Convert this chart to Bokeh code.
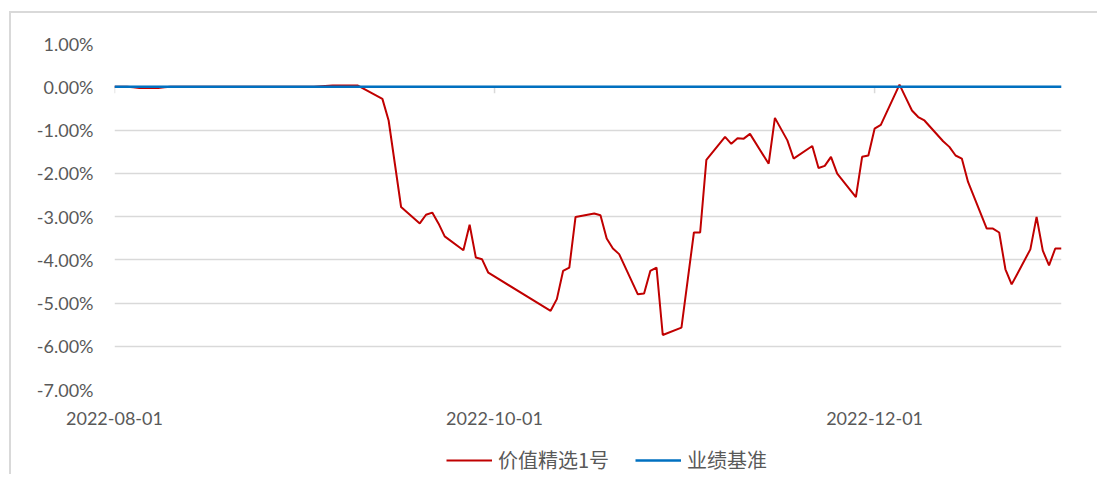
import pandas as pd
from bokeh.plotting import figure
from bokeh.layouts import column
from bokeh.models import (Legend, LegendItem, FixedTicker, DatetimeTickFormatter,
                          PrintfTickFormatter, Range1d, ColumnDataSource)
from bokeh.embed import file_html
from bokeh.resources import INLINE

# ---- data ----
fund_name = "价值精选1号"
bench_name = "业绩基准"

fund_dates = [
    "2022-08-01", "2022-08-03", "2022-08-04", "2022-08-05", "2022-08-08", "2022-08-09",
    "2022-08-10", "2022-09-02", "2022-09-05", "2022-09-08", "2022-09-09",
    "2022-09-13", "2022-09-14", "2022-09-15", "2022-09-16",
    "2022-09-19", "2022-09-20", "2022-09-21", "2022-09-22", "2022-09-23",
    "2022-09-26", "2022-09-27", "2022-09-28", "2022-09-29", "2022-09-30",
    "2022-10-10", "2022-10-11", "2022-10-12", "2022-10-13", "2022-10-14",
    "2022-10-17", "2022-10-18", "2022-10-19", "2022-10-20", "2022-10-21",
    "2022-10-24", "2022-10-25", "2022-10-26", "2022-10-27", "2022-10-28",
    "2022-10-31", "2022-11-01", "2022-11-02", "2022-11-03", "2022-11-04",
    "2022-11-07", "2022-11-08", "2022-11-09", "2022-11-10", "2022-11-11",
    "2022-11-14", "2022-11-15", "2022-11-16", "2022-11-17", "2022-11-18",
    "2022-11-21", "2022-11-22", "2022-11-23", "2022-11-24", "2022-11-25",
    "2022-11-28", "2022-11-29", "2022-11-30", "2022-12-01", "2022-12-02",
    "2022-12-05", "2022-12-06", "2022-12-07", "2022-12-08", "2022-12-09",
    "2022-12-12", "2022-12-13", "2022-12-14", "2022-12-15", "2022-12-16",
    "2022-12-19", "2022-12-20", "2022-12-21", "2022-12-22", "2022-12-23",
    "2022-12-26", "2022-12-27", "2022-12-28", "2022-12-29", "2022-12-30",
    "2022-12-31",
]
fund_values = [
    0.00, 0.00, -0.01, -0.03, -0.03, -0.01,
    0.00, 0.00, 0.03, 0.03, 0.03,
    -0.28, -0.78, -1.78, -2.78,
    -3.16, -2.96, -2.91, -3.16, -3.46,
    -3.78, -3.19, -3.95, -3.99, -4.30,
    -5.18, -4.91, -4.26, -4.18, -3.01,
    -2.93, -2.97, -3.51, -3.74, -3.87,
    -4.80, -4.78, -4.26, -4.18, -5.74,
    -5.57, -4.47, -3.37, -3.37, -1.69,
    -1.16, -1.32, -1.19, -1.20, -1.09,
    -1.78, -0.72, -0.98, -1.24, -1.66,
    -1.37, -1.88, -1.83, -1.62, -2.01,
    -2.55, -1.62, -1.59, -0.97, -0.88,
    0.05, -0.25, -0.55, -0.70, -0.78,
    -1.26, -1.39, -1.59, -1.66, -2.20,
    -3.28, -3.28, -3.37, -4.22, -4.57,
    -3.76, -3.01, -3.79, -4.13, -3.74,
    -3.74,
]

bench_dates = ["2022-08-01", "2022-12-31"]
bench_values = [0.00, 0.00]

x_tick_labels = ["2022-08-01", "2022-10-01", "2022-12-01"]
y_ticks = [-7, -6, -5, -4, -3, -2, -1, 0, 1]

# ---- styles ----
TEXT = "#595959"
GRID = "#d9d9d9"
RED = "#c00000"
BLUE = "#0070c0"

x_range = Range1d(start=pd.Timestamp(bench_dates[0]), end=pd.Timestamp(bench_dates[-1]))

# ---- main figure ----
p = figure(width=1086, height=417, output_backend="svg", toolbar_location=None,
           x_axis_type="datetime", x_range=x_range,
           y_range=Range1d(y_ticks[0], y_ticks[-1]),
           min_border_left=103, min_border_right=36, min_border_top=30, min_border_bottom=41)
p.outline_line_color = None
p.background_fill_color = "white"
p.border_fill_color = "white"

p.yaxis.ticker = FixedTicker(ticks=y_ticks)
p.yaxis.formatter = PrintfTickFormatter(format="%.2f%%")
p.yaxis.axis_line_color = None
p.yaxis.major_tick_line_color = None
p.yaxis.minor_tick_line_color = None
p.yaxis.major_label_standoff = 15
p.yaxis.major_label_text_font = "Lato"
p.yaxis.major_label_text_font_size = "18px"
p.yaxis.major_label_text_color = TEXT

tick_ms = [pd.Timestamp(d).value / 1e6 for d in x_tick_labels]
p.xaxis.ticker = FixedTicker(ticks=tick_ms)
fmt = "%Y-%m-%d"
p.xaxis.formatter = DatetimeTickFormatter(days=fmt, months=fmt, years=fmt, hours=fmt,
                                          minutes=fmt, seconds=fmt, milliseconds=fmt,
                                          microseconds=fmt, hourmin=fmt, minsec=fmt)
p.xaxis.axis_line_color = None
p.xaxis.major_tick_line_color = None
p.xaxis.minor_tick_line_color = None
p.xaxis.major_label_standoff = 16
p.xaxis.major_label_text_font = "Lato"
p.xaxis.major_label_text_font_size = "18px"
p.xaxis.major_label_text_color = TEXT

p.xgrid.grid_line_color = None
p.ygrid.grid_line_color = GRID
p.ygrid.grid_line_width = 1.5

# small tick marks of the horizontal axis at y = 0
tick_dates = pd.to_datetime(x_tick_labels)
p.segment(x0=tick_dates, y0=[0] * len(tick_dates), x1=tick_dates, y1=[-0.15] * len(tick_dates),
          line_color=GRID, line_width=1.5)

fund_src = ColumnDataSource(dict(x=pd.to_datetime(fund_dates), y=fund_values))
bench_src = ColumnDataSource(dict(x=pd.to_datetime(bench_dates), y=bench_values))

p.line("x", "y", source=fund_src, line_color=RED, line_width=2)
p.line("x", "y", source=bench_src, line_color=BLUE, line_width=2.5)

# ---- legend strip (series drawn out of view; only the legend shows) ----
lf = figure(width=1086, height=44, output_backend="svg", toolbar_location=None,
            x_axis_type="datetime", x_range=x_range, y_range=Range1d(100, 101),
            min_border_left=103, min_border_right=36, min_border_top=0, min_border_bottom=0)
lf.axis.visible = False
lf.grid.visible = False
lf.outline_line_color = None
lf.background_fill_color = "white"
lf.border_fill_color = "white"
lr_fund = lf.line("x", "y", source=fund_src, line_color=RED, line_width=2)
lr_bench = lf.line("x", "y", source=bench_src, line_color=BLUE, line_width=2.5)

legend = Legend(items=[LegendItem(label=fund_name, renderers=[lr_fund]),
                       LegendItem(label=bench_name, renderers=[lr_bench])],
                orientation="horizontal", location=(332, 0))
legend.border_line_color = None
legend.background_fill_alpha = 0
legend.label_text_font = "Noto Sans CJK SC"
legend.label_text_font_size = "20px"
legend.label_text_color = TEXT
legend.glyph_width = 46
legend.label_standoff = 6
legend.spacing = 26
legend.padding = 0
legend.margin = 0
lf.add_layout(legend, "center")

layout = column(p, lf, spacing=0,
                styles={"border-left": "2px solid #d9d9d9", "border-top": "2px solid #d9d9d9",
                        "margin-left": "9px", "margin-top": "11px"})

open("out.html", "w").write(file_html(layout, INLINE))
